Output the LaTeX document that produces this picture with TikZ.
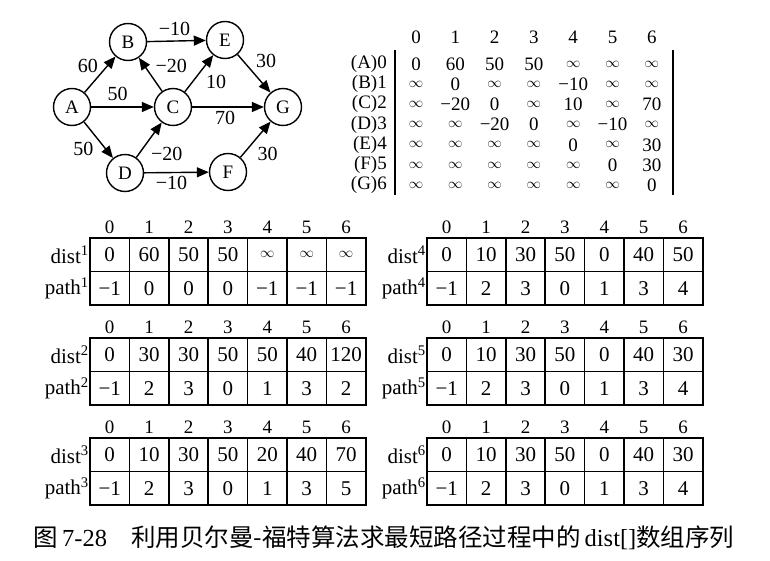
\documentclass[tikz,border=0pt]{standalone}
\usepackage{fontspec}
\setmainfont{Liberation Serif}
\newfontfamily\cjk{Noto Sans CJK SC}
\usetikzlibrary{arrows.meta}
\newcommand{\inft}{{\fontsize{14.5}{14.5}\selectfont$\infty$}}
\tikzset{vertex/.style={draw, circle, line width=1.4pt, minimum size=37pt, inner sep=0pt, font=\fontsize{19}{19}\selectfont},
  edge/.style={line width=1.4pt, -{Triangle[length=12pt,width=10pt]}},
  wt/.style={font=\fontsize{20}{20}\selectfont, inner sep=1.5pt},
  ent/.style={font=\fontsize{19}{19}\selectfont, inner sep=0pt},
  cell/.style={draw, line width=1.5pt, minimum width=39.4pt, minimum height=33.5pt, inner sep=0pt, outer sep=0pt, font=\fontsize{21}{21}\selectfont},
  idx/.style={font=\fontsize{19}{19}\selectfont, inner sep=0pt},
  lbl/.style={font=\fontsize{21}{21}\selectfont, inner sep=1pt, anchor=east}}

\begin{document}
\begin{tikzpicture}[x=1pt,y=-1pt]
  \useasboundingbox (0,0) rectangle (770,561);
  % graph
  \node[vertex] (A) at (72,107) {A};
  \node[vertex] (B) at (128,42) {B};
  \node[vertex] (E) at (225,40) {E};
  \node[vertex] (C) at (173,107) {C};
  \node[vertex] (G) at (283,107) {G};
  \node[vertex] (D) at (125,173) {D};
  \node[vertex] (F) at (228,172) {F};
  \draw[edge] (A) -- node[wt, above left] {60} (B);
  \draw[edge] (A) -- node[wt, above=4pt, xshift=-5pt] {50} (C);
  \draw[edge] (A) -- node[wt, below left, xshift=-3pt] {50} (D);
  \draw[edge] (B) -- node[wt, above=3pt, xshift=-2pt] {−10} (E);
  \draw[edge] (C) -- node[wt, above right, xshift=3pt] {−20} (B);
  \draw[edge] (C) -- node[wt, below right, xshift=5pt] {10} (E);
  \draw[edge] (C) -- node[wt, below=2pt, xshift=-3pt] {70} (G);
  \draw[edge] (D) -- node[wt, below right, yshift=-5pt] {−20} (C);
  \draw[edge] (D) -- node[wt, below=2pt, xshift=-5pt] {−10} (F);
  \draw[edge] (E) -- node[wt, above right, yshift=4pt] {30} (G);
  \draw[edge] (F) -- node[wt, below right, yshift=-6pt] {30} (G);
  % adjacency matrix
  \foreach \i in {0,...,6}
    \node[idx] (h\i) at (416+39.3*\i, 37) {\i};
  \foreach \lab [count=\j from 0] in {A,B,C,D,E,F,G}
    \node[ent, anchor=east] (r\j) at (387, 64+20.2*\j) {(\lab)\j};
  \foreach \rw [count=\j from 0] in {{0,60,50,50,\inft,\inft,\inft},
      {\inft,0,\inft,\inft,−10,\inft,\inft},
      {\inft,−20,0,\inft,10,\inft,70},
      {\inft,\inft,−20,0,\inft,−10,\inft},
      {\inft,\inft,\inft,\inft,0,\inft,30},
      {\inft,\inft,\inft,\inft,\inft,0,30},
      {\inft,\inft,\inft,\inft,\inft,\inft,0}}
    \foreach \vl [count=\i from 0] in \rw
      \node[ent] (m\j-\i) at (416+39.3*\i, 64+20.2*\j) {\vl};
  \draw[line width=1.6pt] (395,50) -- (395,195);
  \draw[line width=1.6pt] (673,50) -- (673,195);
  % dist and path arrays
  \foreach \k/\x/\y/\dl/\pl in {1/90/238/{0,60,50,50,\inft,\inft,\inft}/{−1,0,0,0,−1,−1,−1},
      2/90/338/{0,30,30,50,50,40,120}/{−1,2,3,0,1,3,2},
      3/90/438/{0,10,30,50,20,40,70}/{−1,2,3,0,1,3,5},
      4/427/238/{0,10,30,50,0,40,50}/{−1,2,3,0,1,3,4},
      5/427/338/{0,10,30,50,0,40,30}/{−1,2,3,0,1,3,4},
      6/427/438/{0,10,30,50,0,40,30}/{−1,2,3,0,1,3,4}} {
    \foreach \vl [count=\i from 0] in \dl {
      \node[cell] (d\k-\i) at (\x+19.7+39.4*\i, \y+16.75) {\vl};
      \node[idx] at (\x+19.7+39.4*\i, \y-11) {\i};
    }
    \foreach \vl [count=\i from 0] in \pl
      \node[cell] (p\k-\i) at (\x+19.7+39.4*\i, \y+50.25) {\vl};
    \node[lbl] (dl\k) at (d\k-0.west) {dist\textsuperscript{\k}};
    \node[lbl] (pl\k) at (p\k-0.west) {path\textsuperscript{\k}};
  }
  % caption
  \node[font=\fontsize{24.5}{24.5}\selectfont, inner sep=0pt] (cap) at (384,538)
    {{\cjk 图}\,7-28\hspace{24pt}{\cjk 利用贝尔曼-福特算法求最短路径过程中的}\,dist[]{\cjk 数组序列}};
\end{tikzpicture}
\end{document}
